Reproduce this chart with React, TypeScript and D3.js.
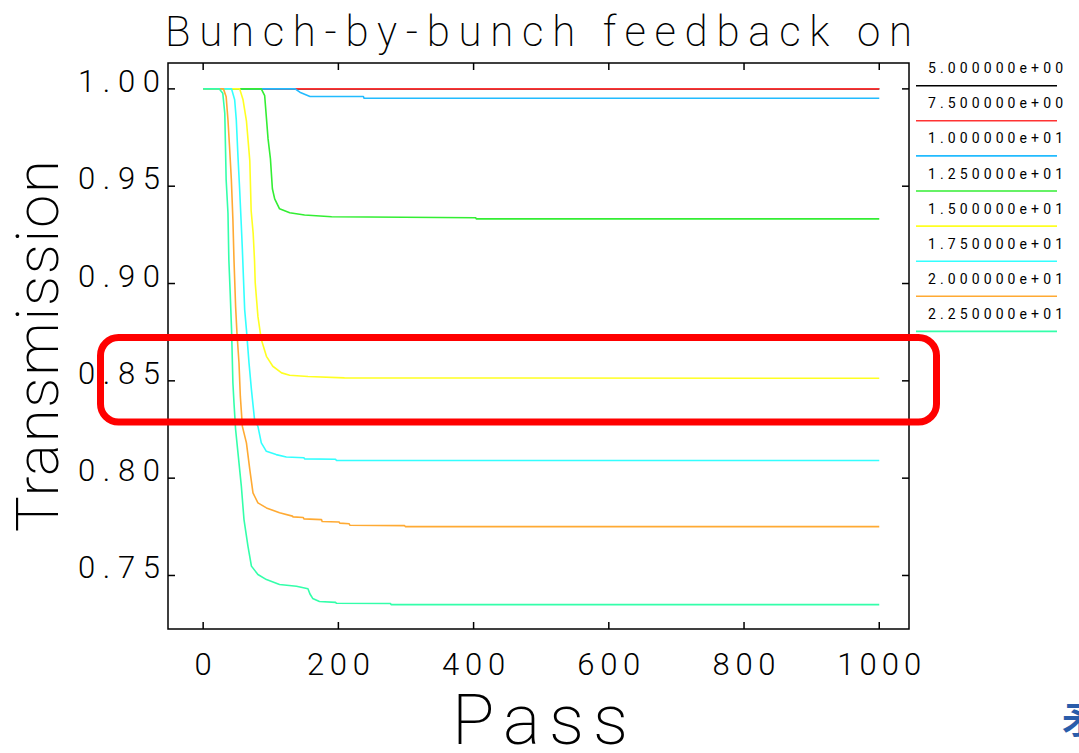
import React from "react";
import * as d3 from "d3";

type Pt = [number, number];

const seriesLabels = [
  "5.000000e+00",
  "7.500000e+00",
  "1.000000e+01",
  "1.250000e+01",
  "1.500000e+01",
  "1.750000e+01",
  "2.000000e+01",
  "2.250000e+01",
];
const seriesColors = ["#000000", "#ff3333", "#22bbff", "#33ee33", "#ffff22", "#33ffff", "#ffaa33", "#33ffaa"];

const s050: Pt[] = [[0, 1], [1000, 1]];
const s075: Pt[] = [[0, 1], [1000, 1]];
const s100: Pt[] = [[0, 1], [136, 1], [143, 0.9983], [150, 0.9973], [158, 0.9961], [237, 0.9961], [238, 0.9952], [1000, 0.9952]];
const s125: Pt[] = [
  [0, 1], [86, 1], [91, 0.9965], [96, 0.9743], [99.5, 0.9641], [102.4, 0.9487], [105.8, 0.9435], [113, 0.9384],
  [128, 0.9364], [150, 0.9352], [190, 0.9343], [403, 0.9338], [404, 0.9332], [1000, 0.9332],
];
const s150: Pt[] = [
  [0, 1], [54, 1], [59, 0.9944], [64, 0.9836], [69, 0.963], [71, 0.9374], [74, 0.9256], [76, 0.9117], [77, 0.9004],
  [81, 0.8831], [86, 0.8712], [93.6, 0.8626], [103, 0.8575], [116, 0.8541], [128, 0.8529], [155, 0.8522], [209, 0.8515], [1000, 0.8513],
];
const s175: Pt[] = [
  [0, 1], [42, 1], [46.6, 0.9944], [49, 0.9841], [51.5, 0.9652], [54, 0.9482], [56.5, 0.9293], [58, 0.9174],
  [61.4, 0.8866], [64, 0.8763], [67.8, 0.8592], [71.4, 0.8455], [76, 0.8301], [81, 0.8266], [86, 0.8181],
  [93.5, 0.8138], [108, 0.8121], [123, 0.8109], [149, 0.8105], [150, 0.8099], [196, 0.8097], [197, 0.8091], [1000, 0.8091],
];
const s200: Pt[] = [
  [0, 1], [30, 1], [34, 0.996], [36.7, 0.984], [39, 0.9704], [41.7, 0.9533], [44, 0.9328], [45.6, 0.9122],
  [48, 0.8882], [50, 0.8746], [53, 0.8592], [55, 0.842], [58, 0.8266], [64, 0.8181], [69, 0.8044], [73.7, 0.7924],
  [81, 0.7873], [93.6, 0.7847], [113, 0.7822], [132, 0.7805], [133, 0.7801], [148, 0.7798], [149, 0.7791],
  [175, 0.7787], [176, 0.7777], [201, 0.7775], [202, 0.7769], [216, 0.7766], [217, 0.7758], [298, 0.7756], [299, 0.7751], [1000, 0.7751],
];
const s225: Pt[] = [
  [0, 1], [24, 1], [29, 0.9978], [32, 0.9875], [33, 0.9704], [34, 0.9533], [36.7, 0.9362], [38, 0.9122],
  [40, 0.8951], [42, 0.8763], [44, 0.8489], [45.6, 0.8387], [48, 0.825], [51.5, 0.813], [56.5, 0.7958],
  [60.4, 0.7787], [66.3, 0.765], [71.4, 0.7548], [81, 0.7505], [93.6, 0.7479], [113, 0.7454], [138, 0.7445],
  [155, 0.7432], [158, 0.7405], [162, 0.7382], [172, 0.7366], [196, 0.7362], [197, 0.7357], [277, 0.7356], [278, 0.735], [1000, 0.735],
];
const seriesData: Pt[][] = [s050, s075, s100, s125, s150, s175, s200, s225];

const xTicks = [0, 200, 400, 600, 800, 1000];
const xTickLabels = ["0", "200", "400", "600", "800", "1000"];
const yTicks = [0.75, 0.8, 0.85, 0.9, 0.95, 1.0];
const yTickLabels = ["0.75", "0.80", "0.85", "0.90", "0.95", "1.00"];

const titleText = "Bunch-by-bunch feedback on";
const xAxisTitle = "Pass";
const yAxisTitle = "Transmission";

const W = 1079;
const H = 753;
const frame = { left: 168, right: 909, top: 63, bottom: 629 };
const FONT = "Roboto, 'DejaVu Sans', sans-serif";

export default function App() {
  const x = d3.scaleLinear().domain([-52, 1044]).range([frame.left, frame.right]);
  const y = d3.scaleLinear().domain([0.7225, 1.0133]).range([frame.bottom, frame.top]);
  const line = d3
    .line<Pt>()
    .x((d) => x(d[0]))
    .y((d) => y(d[1]));
  const tickLen = 7;
  const legendY0 = 85.7;
  const legendStep = 35.1;

  return (
    <svg
      width={W}
      height={H}
      viewBox={`0 0 ${W} ${H}`}
      style={{ position: "absolute", left: 0, top: 0, display: "block", background: "#fff" }}
    >
      <rect x={0} y={0} width={W} height={H} fill="#fff" />
      {/* title */}
      <text x={165} y={46} fontFamily={FONT} fontWeight={200} fontSize={42} textLength={747} lengthAdjust="spacing" fill="#000">
        {titleText}
      </text>

      {/* series */}
      <g fill="none" strokeWidth={1.6} strokeLinejoin="round">
        {seriesData.map((s, i) => (
          <path key={i} d={line(s) || ""} stroke={seriesColors[i]} />
        ))}
      </g>

      {/* frame */}
      <rect
        x={frame.left}
        y={frame.top}
        width={frame.right - frame.left}
        height={frame.bottom - frame.top}
        fill="none"
        stroke="#000"
        strokeWidth={1.5}
      />
      {/* ticks */}
      <g stroke="#000" strokeWidth={1.5}>
        {xTicks.map((t) => (
          <g key={"xt" + t}>
            <line x1={x(t)} x2={x(t)} y1={frame.bottom} y2={frame.bottom - tickLen} />
            <line x1={x(t)} x2={x(t)} y1={frame.top} y2={frame.top + tickLen} />
          </g>
        ))}
        {yTicks.map((t) => (
          <g key={"yt" + t}>
            <line x1={frame.left} x2={frame.left + tickLen} y1={y(t)} y2={y(t)} />
            <line x1={frame.right} x2={frame.right - tickLen} y1={y(t)} y2={y(t)} />
          </g>
        ))}
      </g>
      {/* tick labels */}
      <g fontFamily={FONT} fontWeight={300} fontSize={31} fill="#000">
        {xTicks.map((t, i) => (
          <text
            key={"xl" + t}
            x={x(t)}
            y={675}
            textAnchor="middle"
            textLength={21 * xTickLabels[i].length}
            lengthAdjust="spacing"
          >
            {xTickLabels[i]}
          </text>
        ))}
        {yTicks.map((t, i) => (
          <text
            key={"yl" + t}
            x={160}
            y={y(t) + 3}
            textAnchor="end"
            textLength={82}
            lengthAdjust="spacing"
          >
            {yTickLabels[i]}
          </text>
        ))}
      </g>
      {/* axis titles */}
      <text x={452} y={744} fontFamily={FONT} fontWeight={200} fontSize={70} textLength={176} lengthAdjust="spacing" fill="#000">
        {xAxisTitle}
      </text>
      <text
        transform="translate(58,346) rotate(-90)"
        textAnchor="middle"
        fontFamily={FONT}
        fontWeight={200}
        fontSize={60}
        textLength={372}
        lengthAdjust="spacing"
        fill="#000"
      >
        {yAxisTitle}
      </text>

      {/* legend */}
      <g>
        {seriesLabels.map((lab, i) => {
          const ly = legendY0 + i * legendStep;
          return (
            <g key={"lg" + i}>
              <text
                x={1063}
                y={ly - 12.5}
                textAnchor="end"
                fontFamily={FONT}
                fontWeight={400}
                fontSize={14}
                textLength={135}
                lengthAdjust="spacing"
                fill="#000"
              >
                {lab}
              </text>
              <line x1={916} x2={1057} y1={ly} y2={ly} stroke={seriesColors[i]} strokeWidth={1.6} />
            </g>
          );
        })}
      </g>

      {/* highlight box */}
      <rect x={100.5} y={337.5} width={836} height={84.5} rx={18} ry={18} fill="none" stroke="#ff0000" strokeWidth={7} />

      {/* partial glyph at page edge */}
      <text x={1062} y={734} fontFamily="'Noto Sans CJK SC', sans-serif" fontWeight={700} fontSize={36} fill="#2a5caa">
        矛
      </text>
    </svg>
  );
}
